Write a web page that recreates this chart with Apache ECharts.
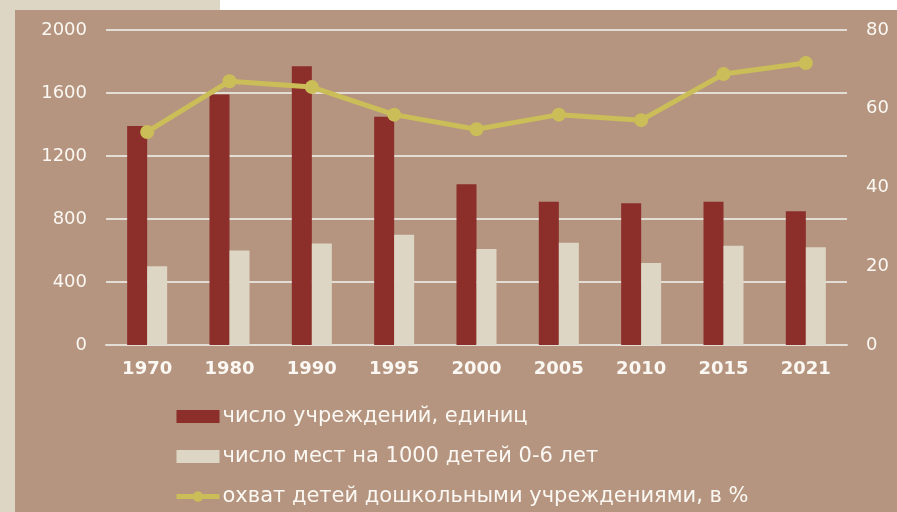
<!DOCTYPE html>
<html>
<head>
<meta charset="utf-8">
<script src="https://cdn.jsdelivr.net/npm/echarts@6/dist/echarts.min.js"></script>
<style>
html,body{margin:0;padding:0;background:#ffffff;}
#wrap{position:relative;width:897px;height:512px;overflow:hidden;}
.bg{position:absolute;}
#chart{position:absolute;left:0;top:0;width:897px;height:512px;}
</style>
</head>
<body>
<div id="wrap">
  <div class="bg" style="left:0;top:0;width:15px;height:512px;background:#ddd6c4;"></div>
  <div class="bg" style="left:0;top:0;width:220px;height:10px;background:#ddd6c4;"></div>
  <div class="bg" style="left:15px;top:10px;width:882px;height:502px;background:#b5957f;"></div>
  <div id="chart"></div>
</div>
<script>
const categories = ['1970','1980','1990','1995','2000','2005','2010','2015','2021'];
const institutions = [1390, 1590, 1770, 1450, 1020, 910, 900, 910, 850];
const placesPer1000 = [500, 600, 645, 700, 610, 650, 520, 630, 620];
const coveragePct = [54.1, 67.0, 65.5, 58.5, 54.8, 58.5, 57.1, 68.8, 71.6];
const leftTicks = [0, 400, 800, 1200, 1600, 2000];
const rightTicks = [0, 20, 40, 60, 80];

const FONT = '"DejaVu Sans", "Noto Sans", sans-serif';
const TXT = '#fbf8f3';
const chart = echarts.init(document.getElementById('chart'), null, {renderer: 'canvas'});
chart.setOption({
  backgroundColor: 'transparent',
  animation: false,
  textStyle: {fontFamily: FONT},
  grid: {left: 106, right: 50, top: 30, bottom: 167, containLabel: false},
  legend: {
    orient: 'vertical',
    left: 174,
    top: 406,
    height: 120,
    padding: 0,
    itemWidth: 43,
    itemHeight: 13,
    itemGap: 19,
    textStyle: {color: TXT, fontSize: 21, fontFamily: FONT, lineHeight: 21, padding: [0,0,0,-2]},
    data: [
      {name: 'число учреждений, единиц', icon: 'rect'},
      {name: 'число мест на 1000 детей 0-6 лет', icon: 'rect'},
      {name: 'охват детей дошкольными учреждениями, в %', lineStyle: {width: 5, color: '#cbbd58'}, itemStyle: {color: '#cbbd58'}}
    ]
  },
  xAxis: {
    type: 'category',
    data: categories,
    axisLine: {show: true, lineStyle: {color: '#e2ddd5', width: 2}},
    axisTick: {show: false},
    axisLabel: {color: TXT, fontSize: 18, fontWeight: 'bold', margin: 15, fontFamily: FONT}
  },
  yAxis: [
    {
      type: 'value', min: leftTicks[0], max: leftTicks[leftTicks.length-1], interval: 400,
      axisLine: {show: false}, axisTick: {show: false},
      axisLabel: {color: TXT, fontSize: 18, margin: 19, fontFamily: FONT, formatter: v => String(v)},
      splitLine: {show: true, lineStyle: {color: '#e2ddd5', width: 2}}
    },
    {
      type: 'value', min: rightTicks[0], max: rightTicks[rightTicks.length-1], interval: 20,
      position: 'right',
      axisLine: {show: false}, axisTick: {show: false},
      axisLabel: {color: TXT, fontSize: 18, margin: 19, fontFamily: FONT, formatter: v => String(v)},
      splitLine: {show: false}
    }
  ],
  series: [
    {
      name: 'число учреждений, единиц', type: 'bar', data: institutions,
      barWidth: 20, barGap: '0%', itemStyle: {color: '#8c2e2a'}, z: 2
    },
    {
      name: 'число мест на 1000 детей 0-6 лет', type: 'bar', data: placesPer1000,
      barWidth: 20, barGap: '0%', itemStyle: {color: '#ddd6c4'}, z: 2
    },
    {
      name: 'охват детей дошкольными учреждениями, в %', type: 'line', yAxisIndex: 1,
      data: coveragePct, symbol: 'circle', symbolSize: 14,
      lineStyle: {color: '#cbbd58', width: 5},
      itemStyle: {color: '#cbbd58'}, z: 5
    }
  ]
});
</script>
</body>
</html>
